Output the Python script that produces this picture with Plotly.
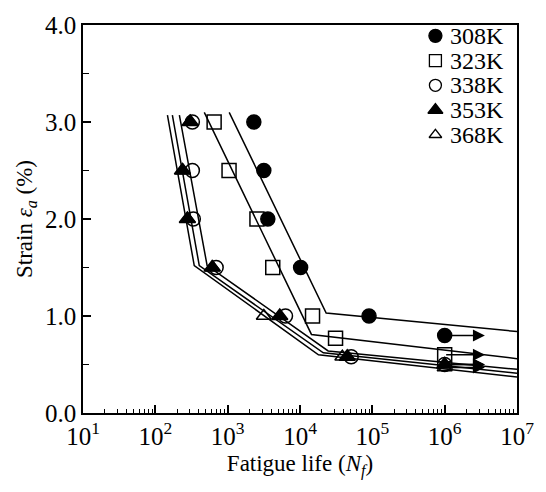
import numpy as np
import plotly.graph_objects as go

# ---------------- data ----------------
temps = ["308K", "323K", "338K", "353K", "368K"]

n_308 = [2300, 3160, 3590, 10200, 90000]
s_308 = [3.0, 2.5, 2.0, 1.5, 1.0]
n_323 = [650, 1045, 2540, 4200, 14900, 31000]
s_323 = [3.0, 2.5, 2.0, 1.5, 1.0, 0.77]
n_338 = [325, 325, 335, 693, 6300, 51000]
s_338 = [3.0, 2.5, 2.0, 1.5, 1.0, 0.58]
n_353 = [305, 237, 277, 611, 5250, 45000]
s_353 = [3.0, 2.5, 2.0, 1.5, 1.0, 0.58]
n_368 = [300, 240, 280, 620, 3160, 38500]
s_368 = [3.0, 2.5, 2.0, 1.5, 1.0, 0.58]

# run-out specimens (no failure) at 1e6 cycles
runout_temp = ["308K", "323K", "338K", "353K", "368K"]
runout_n = [1.0e6, 1.0e6, 1.0e6, 1.0e6, 1.0e6]
runout_s = [0.80, 0.60, 0.50, 0.50, 0.47]
runout_end = 3.6e6

# fitted lines (N, strain)
fit_308_n = [1050, 23000, 1.0e7]
fit_308_s = [3.10, 1.03, 0.84]
fit_323_n = [475, 14400, 1.0e7]
fit_323_s = [3.10, 0.81, 0.56]
fit_a_n = [215, 520, 24500, 1.0e7]
fit_a_s = [3.07, 1.52, 0.64, 0.45]
fit_b_n = [172, 405, 21000, 1.0e7]
fit_b_s = [3.07, 1.52, 0.62, 0.41]
fit_c_n = [147, 345, 18000, 1.0e7]
fit_c_s = [3.07, 1.52, 0.60, 0.37]

x_tickvals = [10, 100, 1000, 1e4, 1e5, 1e6, 1e7]
x_ticktext = ["10<sup>1</sup>", "10<sup>2</sup>", "10<sup>3</sup>", "10<sup>4</sup>",
              "10<sup>5</sup>", "10<sup>6</sup>", "10<sup>7</sup>"]
y_tickvals = [0, 1, 2, 3, 4]
y_ticktext = ["0.0", "1.0", "2.0", "3.0", "4.0"]

# ---------------- styles ----------------
FONT = "Liberation Serif"
styles = {
    "308K": dict(symbol="circle", size=14),
    "323K": dict(symbol="square-open", size=14),
    "338K": dict(symbol="circle-open", size=14),
    "353K": dict(symbol="triangle-up", size=14),
    "368K": dict(symbol="triangle-up-open", size=13),
}
legend_styles = {
    "308K": dict(symbol="circle", size=13),
    "323K": dict(symbol="square-open", size=12),
    "338K": dict(symbol="circle-open", size=12),
    "353K": dict(symbol="triangle-up", size=13),
    "368K": dict(symbol="triangle-up-open", size=11),
}

fig = go.Figure()

for fn, fs in [(fit_308_n, fit_308_s), (fit_323_n, fit_323_s),
               (fit_a_n, fit_a_s), (fit_b_n, fit_b_s), (fit_c_n, fit_c_s)]:
    fig.add_trace(go.Scatter(x=fn, y=fs, mode="lines", line=dict(color="black", width=1.5),
                             showlegend=False, hoverinfo="skip"))

data = {"308K": (n_308, s_308), "323K": (n_323, s_323), "338K": (n_338, s_338),
        "353K": (n_353, s_353), "368K": (n_368, s_368)}

for t in temps:
    xs, ys = data[t]
    rx = [runout_n[i] for i, rt in enumerate(runout_temp) if rt == t]
    ry = [runout_s[i] for i, rt in enumerate(runout_temp) if rt == t]
    st = styles[t]
    fig.add_trace(go.Scatter(x=list(xs) + rx, y=list(ys) + ry, mode="markers", name=t,
                             showlegend=False,
                             marker=dict(symbol=st["symbol"], color="black", size=st["size"],
                                         line=dict(color="black", width=1.5))))

for i in range(len(runout_n)):
    fig.add_annotation(x=np.log10(runout_end), y=runout_s[i], ax=np.log10(runout_n[i]), ay=runout_s[i],
                       xref="x", yref="y", axref="x", ayref="y", text="", showarrow=True,
                       arrowhead=2, arrowsize=1.6, arrowwidth=1.5, arrowcolor="black")

# ---- manual legend (on a hidden overlay axis in fractions of the plot area) ----
leg_marker_x = 0.812
leg_text_x = 0.842
leg_top = 0.972
leg_step = 0.0637
for k, t in enumerate(temps):
    ly = leg_top - k * leg_step
    st = legend_styles[t]
    fig.add_trace(go.Scatter(x=[leg_marker_x], y=[ly], xaxis="x2", yaxis="y2", mode="markers",
                             showlegend=False, hoverinfo="skip",
                             marker=dict(symbol=st["symbol"], color="black", size=st["size"],
                                         line=dict(color="black", width=1.3))))
    fig.add_annotation(x=leg_text_x, y=ly, xref="x2", yref="y2", text=t, showarrow=False,
                       xanchor="left", yanchor="middle", font=dict(family=FONT, size=24, color="black"))

minor_vals = [m * 10 ** d for d in range(1, 7) for m in range(2, 10)]

fig.update_layout(
    width=546, height=492,
    margin=dict(l=83, r=27, t=13, b=79),
    paper_bgcolor="white", plot_bgcolor="white",
    font=dict(family=FONT, size=24, color="black"),
    showlegend=False,
    xaxis=dict(type="log", range=[1, 7], showgrid=False, zeroline=False,
               showline=True, linecolor="black", linewidth=1.5, mirror=True,
               ticks="inside", ticklen=8, tickwidth=1.5, tickcolor="black",
               tickvals=x_tickvals, ticktext=x_ticktext,
               tickfont=dict(family=FONT, size=25),
               minor=dict(tickvals=minor_vals, ticks="inside", ticklen=4, tickwidth=1.2,
                          tickcolor="black", showgrid=False),
               title=dict(text="Fatigue life (<i>N<sub>f</sub></i>)", font=dict(family=FONT, size=23),
                          standoff=6)),
    yaxis=dict(range=[0, 4], showgrid=False, zeroline=False,
               showline=True, linecolor="black", linewidth=1.5, mirror=True,
               ticks="inside", ticklen=8, tickwidth=1.5, tickcolor="black",
               tickvals=y_tickvals, ticktext=y_ticktext,
               tickfont=dict(family=FONT, size=25),
               minor=dict(tickvals=[0.5, 1.5, 2.5, 3.5], ticks="inside", ticklen=6, tickwidth=1.2,
                          tickcolor="black", showgrid=False),
               title=dict(text="Strain <i>ε<sub>a</sub></i> (%)", font=dict(family=FONT, size=23),
                          standoff=6)),
    xaxis2=dict(overlaying="x", range=[0, 1], visible=False, fixedrange=True),
    yaxis2=dict(overlaying="y", range=[0, 1], visible=False, fixedrange=True),
)

fig.write_html("out.html")
